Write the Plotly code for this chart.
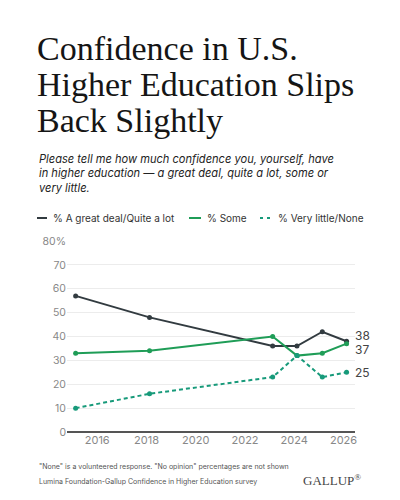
import plotly.graph_objects as go

# survey waves (plotted a little after the new year)
dates = ["2015-02-15", "2018-02-15", "2023-02-15", "2024-02-10", "2025-02-20", "2026-02-15"]
great_deal = [57, 48, 36, 36, 42, 38]
some = [33, 34, 40, 32, 33, 37]
very_little = [10, 16, 23, 32, 23, 25]

series_names = ["% A great deal/Quite a lot", "% Some", "% Very little/None"]
colors = ["#323b40", "#1f9d57", "#179a7a"]
dashes = ["solid", "solid", "4px,3px"]
end_shift = [6, -6, 0]

TITLE_LINES = ["Confidence in U.S.", "Higher Education Slips", "Back Slightly"]
SUBTITLE = ("Please tell me how much confidence you, yourself, have<br>"
            "in higher education — a great deal, quite a lot, some or<br>"
            "very little.")
NOTE1 = "\"None\" is a volunteered response. \"No opinion\" percentages are not shown"
NOTE2 = "Lumina Foundation-Gallup Confidence in Higher Education survey"

# the page puts the figure 8px in from the corner (default body margin)
OFF = 8
FW, FH = 400 - OFF, 500 - OFF
# plot box in page pixels
L, R, T, B = 67, 355, 241, 432
W, H = R - L, B - T


def px_x(x):
    return (x - L) / W


def px_y(y):
    return (B - y) / H


fig = go.Figure()
for name, ys, col, dash in zip(series_names, [great_deal, some, very_little], colors, dashes):
    fig.add_trace(go.Scatter(
        x=dates, y=ys, name=name, mode="lines+markers",
        line=dict(color=col, width=2, dash=dash),
        marker=dict(color=col, size=5),
        cliponaxis=False, showlegend=False,
    ))

# end labels
for ys, shift in zip([great_deal, some, very_little], end_shift):
    fig.add_annotation(x=dates[-1], y=ys[-1], text=str(ys[-1]), showarrow=False,
                       xanchor="left", xshift=6, yshift=shift,
                       font=dict(size=12, color="#444"))

# title, one annotation per line to control leading
for i, line in enumerate(TITLE_LINES):
    fig.add_annotation(xref="paper", yref="paper", x=px_x(35), y=px_y(49 + i * 35.5),
                       xanchor="left", yanchor="middle", text=line, showarrow=False,
                       font=dict(family="Liberation Serif, DejaVu Serif, serif", size=34, color="#151515"))

fig.add_annotation(xref="paper", yref="paper", x=px_x(37), y=px_y(150), xanchor="left", yanchor="top",
                   text="<i>" + SUBTITLE + "</i>", align="left", showarrow=False,
                   font=dict(size=11.1, color="#222"))

# legend row: short line keys drawn as shapes plus the series names
legend_key = [(37, 47), (189, 201), (260, 271)]
legend_text_x = [51, 205, 276]
for name, col, dash, (k0, k1), tx in zip(series_names, colors, dashes, legend_key, legend_text_x):
    fig.add_shape(type="line", xref="paper", yref="paper",
                  x0=px_x(k0), x1=px_x(k1), y0=px_y(218), y1=px_y(218),
                  line=dict(color=col, width=2, dash="3px,4px" if dash != "solid" else "solid"))
    fig.add_annotation(xref="paper", yref="paper", x=px_x(tx), y=px_y(218), xanchor="left", yanchor="middle",
                       text=name, showarrow=False, font=dict(size=10, color="#333"))

fig.add_annotation(xref="paper", yref="paper", x=px_x(37), y=px_y(466), xanchor="left", yanchor="middle",
                   text=NOTE1, align="left", showarrow=False,
                   font=dict(size=7, color="#555"))
fig.add_annotation(xref="paper", yref="paper", x=px_x(37), y=px_y(481), xanchor="left", yanchor="middle",
                   text=NOTE2, align="left", showarrow=False,
                   font=dict(size=7, color="#555"))
fig.add_annotation(xref="paper", yref="paper", x=px_x(363), y=px_y(480), xanchor="right", yanchor="middle",
                   text="GALLUP<sup>®</sup>", showarrow=False,
                   font=dict(family="Liberation Serif, serif", size=13, color="#444"))

fig.update_layout(
    width=FW, height=FH,
    paper_bgcolor="white", plot_bgcolor="white",
    margin=dict(l=L - OFF, r=FW - (R - OFF), t=T - OFF, b=FH - (B - OFF), autoexpand=False),
    font=dict(family="Inter, Roboto, sans-serif", color="#333"),
    showlegend=False,
)

fig.update_xaxes(type="date", range=["2014-10-10", "2026-06-20"],
                 tick0="2016-01-01", dtick="M24", tickformat="%Y",
                 showgrid=False, showline=False, zeroline=False, ticks="",
                 tickfont=dict(size=11, color="#888"))
fig.update_yaxes(range=[0, 80], showgrid=True, gridcolor="#ececec", gridwidth=1,
                 zeroline=True, zerolinecolor="#555", zerolinewidth=1.5,
                 showline=False, ticks="", tickfont=dict(size=10.5, color="#888"),
                 tickvals=[0, 10, 20, 30, 40, 50, 60, 70, 80],
                 ticktext=["0", "10", "20", "30", "40", "50", "60", "70", "80%"])

fig.write_html("out.html")
